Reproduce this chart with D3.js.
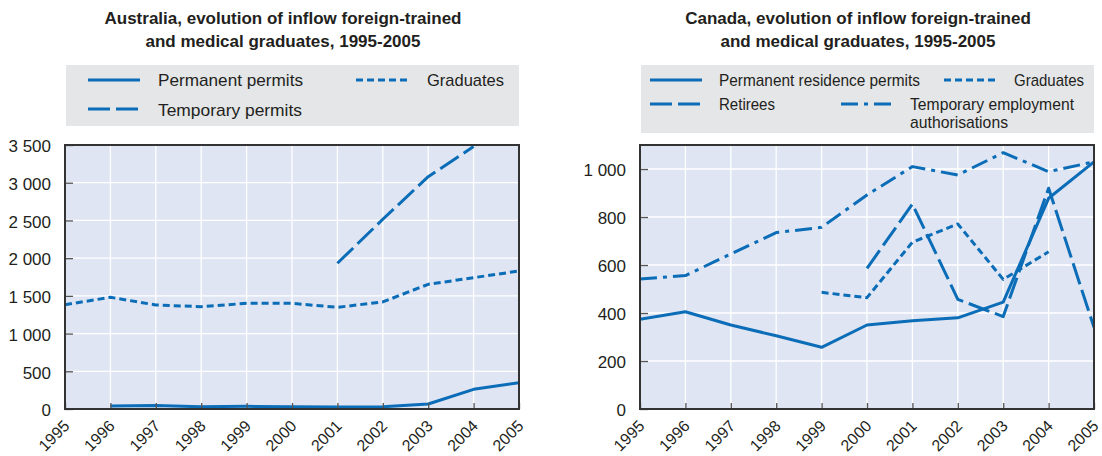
<!DOCTYPE html>
<html>
<head>
<meta charset="utf-8">
<script src="https://cdn.jsdelivr.net/npm/d3@7"></script>
<style>
body { margin: 0; background: #fff; }
text { font-family: "Liberation Sans", Arial, sans-serif; fill: #231f20; }
</style>
</head>
<body>
<svg id="chart" width="1102" height="456"></svg>
<script>
// shared categories
var years = [1995, 1996, 1997, 1998, 1999, 2000, 2001, 2002, 2003, 2004, 2005];

// Australia
var auPermanent = [null, 40, 45, 30, 35, 30, 25, 30, 66, 261, 349];
var auTemporary = [null, null, null, null, null, null, 1932, 2515, 3080, 3480, null];
var auGraduates = [1383, 1481, 1379, 1357, 1401, 1401, 1348, 1419, 1653, 1741, 1830];
var auTicks = [0, 500, 1000, 1500, 2000, 2500, 3000, 3500];

// Canada
var caPermanent = [374, 405, 350, 305, 257, 350, 368, 380, 445, 878, 1030];
var caGraduates = [null, null, null, null, 486, 464, 695, 771, 540, 655, null];
var caRetirees = [null, null, null, null, null, 586, 854, 457, 385, 920, 340];
var caTemporary = [542, 556, 646, 735, 757, 892, 1010, 975, 1068, 989, 1030];
var caTicks = [0, 200, 400, 600, 800, 1000];

var blue = "#0b6db7";
var dashes = {
    solid: null,
    longdash: "22,6",
    dots: "7,4",
    dashdot: "17,6,4,6"
};

var svg = d3.select("#chart");
var fmt = d3.formatLocale({decimal: ".", thousands: " ", grouping: [3], currency: ["", ""]}).format(",");

var plotTop = 145, plotBottom = 409;

function drawPanel(cfg, id) {
    var g = svg.append("g");
    var x = d3.scalePoint().domain(years).range([cfg.left, cfg.right]);
    var y = d3.scaleLinear().domain([0, cfg.max]).range([plotBottom, plotTop]);
    var cx = (cfg.left + cfg.right) / 2 - 9;

    // title
    cfg.title.forEach(function (s, i) {
        g.append("text")
            .attr("x", cx).attr("y", 24 + i * 23)
            .attr("text-anchor", "middle")
            .style("font-weight", "bold")
            .style("font-size", "17px")
            .text(s);
    });

    // legend
    g.append("rect")
        .attr("x", cfg.left + 1).attr("y", 65)
        .attr("width", cfg.right - cfg.left - 1).attr("height", cfg.legendH)
        .attr("fill", "#e5e6e8");
    cfg.legend.forEach(function (d) {
        g.append("line")
            .attr("x1", d.sx).attr("x2", d.sx + 52)
            .attr("y1", d.sy).attr("y2", d.sy)
            .attr("stroke", blue).attr("stroke-width", 3)
            .attr("stroke-dasharray", dashes[d.dash]);
        d.label.forEach(function (s, i) {
            g.append("text")
                .attr("x", d.tx).attr("y", d.ty + i * 18)
                .attr("textLength", d.w[i])
                .attr("lengthAdjust", "spacingAndGlyphs")
                .style("font-size", "17px")
                .text(s);
        });
    });

    // plot background
    g.append("rect")
        .attr("x", cfg.left).attr("y", plotTop)
        .attr("width", cfg.right - cfg.left).attr("height", plotBottom - plotTop)
        .attr("fill", "#dfe5f3");

    // grid
    g.append("g").selectAll("line").data(years.slice(1, -1)).enter().append("line")
        .attr("x1", function (d) { return x(d); }).attr("x2", function (d) { return x(d); })
        .attr("y1", plotTop).attr("y2", plotBottom)
        .attr("stroke", "#fff").attr("stroke-width", 1.3);
    g.append("g").selectAll("line").data(cfg.ticks).enter().append("line")
        .attr("x1", cfg.left).attr("x2", cfg.right)
        .attr("y1", function (d) { return y(d); }).attr("y2", function (d) { return y(d); })
        .attr("stroke", "#fff").attr("stroke-width", 1.3);

    // clip
    g.append("clipPath").attr("id", "clip" + id).append("rect")
        .attr("x", cfg.left).attr("y", plotTop - 1)
        .attr("width", cfg.right - cfg.left).attr("height", plotBottom - plotTop + 1);

    var line = d3.line()
        .defined(function (d) { return d != null; })
        .x(function (d, i) { return x(years[i]); })
        .y(function (d) { return y(d); });

    g.append("g").attr("clip-path", "url(#clip" + id + ")")
        .selectAll("path").data(cfg.series).enter().append("path")
        .attr("d", function (d) { return line(d.values); })
        .attr("fill", "none")
        .attr("stroke", blue)
        .attr("stroke-width", 3)
        .attr("stroke-linejoin", "round")
        .attr("stroke-dasharray", function (d) { return dashes[d.dash]; });

    // axes
    var yAxis = g.append("g")
        .attr("transform", "translate(" + cfg.left + ",0)")
        .call(d3.axisLeft(y).tickValues(cfg.ticks).tickFormat(fmt).tickSizeInner(-8).tickSizeOuter(0).tickPadding(14));
    yAxis.select(".domain").remove();
    yAxis.selectAll("line").attr("stroke", "#555").attr("stroke-width", 1.3);
    yAxis.selectAll("text")
        .attr("dy", "0.4em")
        .style("font-size", "17px")
        .style("font-family", null);

    var xAxis = g.append("g")
        .attr("transform", "translate(0," + plotBottom + ")")
        .call(d3.axisBottom(x).tickSizeInner(-6).tickSizeOuter(0));
    xAxis.select(".domain").remove();
    xAxis.selectAll("line").attr("stroke", "#555").attr("stroke-width", 1.3);
    xAxis.selectAll("text")
        .attr("x", 0).attr("y", 0).attr("dy", null)
        .attr("text-anchor", "end")
        .attr("transform", "translate(5,18) rotate(-45)")
        .style("font-size", "16px")
        .style("font-family", null);
    svg.selectAll(".tick text").attr("fill", "#231f20");

    // frame
    g.append("rect")
        .attr("x", cfg.left).attr("y", plotTop)
        .attr("width", cfg.right - cfg.left).attr("height", plotBottom - plotTop)
        .attr("fill", "none").attr("stroke", "#333").attr("stroke-width", 2);
}

drawPanel({
    left: 65, right: 519, max: 3500, ticks: auTicks, legendH: 61,
    title: ["Australia, evolution of inflow foreign-trained", "and medical graduates, 1995-2005"],
    series: [
        {values: auPermanent, dash: "solid"},
        {values: auTemporary, dash: "longdash"},
        {values: auGraduates, dash: "dots"}
    ],
    legend: [
        {sx: 88, sy: 80, tx: 158, ty: 86, w: [145], dash: "solid", label: ["Permanent permits"]},
        {sx: 88, sy: 109, tx: 158, ty: 116, w: [144], dash: "longdash", label: ["Temporary permits"]},
        {sx: 356, sy: 80, tx: 427, ty: 86, w: [77], dash: "dots", label: ["Graduates"]}
    ]
}, "au");

drawPanel({
    left: 640, right: 1094, max: 1100, ticks: caTicks, legendH: 68,
    title: ["Canada, evolution of inflow foreign-trained", "and medical graduates, 1995-2005"],
    series: [
        {values: caPermanent, dash: "solid"},
        {values: caGraduates, dash: "dots"},
        {values: caRetirees, dash: "longdash"},
        {values: caTemporary, dash: "dashdot"}
    ],
    legend: [
        {sx: 650, sy: 80, tx: 719, ty: 86, w: [201], dash: "solid", label: ["Permanent residence permits"]},
        {sx: 944, sy: 80, tx: 1014, ty: 86, w: [70], dash: "dots", label: ["Graduates"]},
        {sx: 650, sy: 104, tx: 719, ty: 110, w: [56], dash: "longdash", label: ["Retirees"]},
        {sx: 841, sy: 104, tx: 910, ty: 110, w: [164, 98], dash: "dashdot", label: ["Temporary employment", "authorisations"]}
    ]
}, "ca");
</script>
</body>
</html>
